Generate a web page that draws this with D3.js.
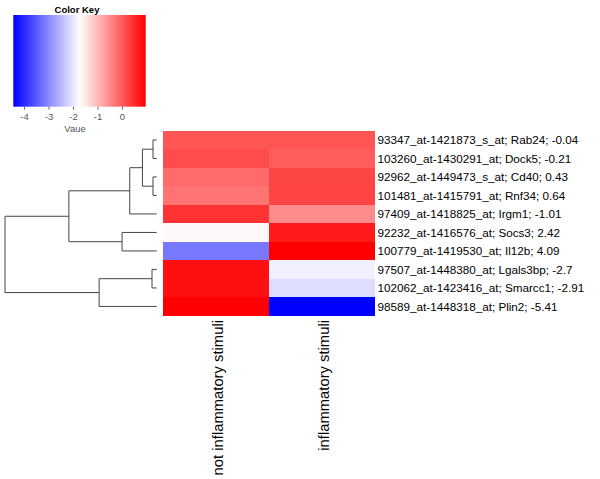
<!DOCTYPE html>
<html>
<head>
<meta charset="utf-8">
<script src="https://cdn.jsdelivr.net/npm/d3@7"></script>
<style>
  html, body { margin: 0; padding: 0; background: #fff; }
  svg { display: block; font-family: Arial, "Liberation Sans", sans-serif; }
</style>
</head>
<body>
<svg id="chart" width="600" height="479"></svg>
<script>
// ---- data ----
const rowLabels = [
  "93347_at-1421873_s_at; Rab24; -0.04",
  "103260_at-1430291_at; Dock5; -0.21",
  "92962_at-1449473_s_at; Cd40; 0.43",
  "101481_at-1415791_at; Rnf34; 0.64",
  "97409_at-1418825_at; Irgm1; -1.01",
  "92232_at-1416576_at; Socs3; 2.42",
  "100779_at-1419530_at; Il12b; 4.09",
  "97507_at-1448380_at; Lgals3bp; -2.7",
  "102062_at-1423416_at; Smarcc1; -2.91",
  "98589_at-1448318_at; Plin2; -5.41"
];
const columns = ["not inflammatory stimuli", "inflammatory stimuli"];
const valuesNotInflammatory = [0.07, 0.17, -0.15, -0.25, 0.43, -1.66, -3.17, 0.80, 0.80, 0.97];
const valuesInflammatory    = [0.07, -0.02, 0.23, 0.25, -0.51, 0.69, 0.97, -1.89, -2.10, -4.44];
const keyTicks = [-4, -3, -2, -1, 0];
const keyRange = [-4.44, 0.97];
// hclust-style merges: negative = leaf (row number), positive = earlier merge; third = height
const merges = [
  [-1, -2, 3.7],
  [-3, -4, 3.7],
  [1, 2, 14.3],
  [3, -5, 27],
  [-6, -7, 34.7],
  [4, 5, 88],
  [-8, -9, 4.7],
  [7, -10, 57.7],
  [6, 8, 152]
];

// ---- drawing ----
const svg = d3.select("#chart");
const seriesByCol = [valuesNotInflammatory, valuesInflammatory];
const mid = (keyRange[0] + keyRange[1]) / 2;
const color = d3.scaleLinear()
  .domain([keyRange[0], mid, keyRange[1]])
  .range(["#0000ff", "#ffffff", "#ff0000"]);

const y = d3.scaleBand().domain(d3.range(rowLabels.length)).range([130.7, 315.7]);
const x = d3.scaleBand().domain(columns).range([162.5, 374.5]);

// heatmap cells
const cells = [];
columns.forEach((c, ci) => seriesByCol[ci].forEach((v, ri) => cells.push({c, ri, v})));
svg.append("g").selectAll("rect").data(cells).join("rect")
  .attr("x", d => x(d.c))
  .attr("y", d => y(d.ri))
  .attr("width", x.bandwidth())
  .attr("height", y.bandwidth() + 0.3)
  .attr("fill", d => color(d.v))
  .attr("shape-rendering", "crispEdges");

// row labels
svg.append("g").selectAll("text").data(rowLabels).join("text")
  .attr("x", 377.5)
  .attr("y", (d, i) => y(i) + y.bandwidth() / 2)
  .attr("dy", "0.36em")
  .attr("font-size", "11.7px")
  .attr("fill", "#000")
  .text(d => d);

// column labels
svg.append("g").selectAll("text").data(columns).join("text")
  .attr("transform", d => `translate(${x(d) + x.bandwidth() / 2 + 2.5},320) rotate(-90)`)
  .attr("text-anchor", "end")
  .attr("dy", "0.35em")
  .attr("font-size", "14.8px")
  .attr("fill", "#000")
  .text(d => d);

// dendrogram
const maxH = d3.max(merges, m => m[2]);
const hx = d3.scaleLinear().domain([0, maxH]).range([156.7, 5]);
const nodePos = [];
function pos(id) {
  if (id < 0) return {x: hx(0), y: y(-id - 1) + y.bandwidth() / 2};
  return nodePos[id - 1];
}
const dend = svg.append("g").attr("stroke", "#444").attr("stroke-width", 1).attr("fill", "none");
merges.forEach((m, i) => {
  const a = pos(m[0]), b = pos(m[1]);
  const nx = hx(m[2]);
  const p = d3.path();
  p.moveTo(a.x, a.y); p.lineTo(nx, a.y); p.lineTo(nx, b.y); p.lineTo(b.x, b.y);
  dend.append("path").attr("d", p.toString());
  nodePos[i] = {x: nx, y: (a.y + b.y) / 2};
});

// color key
const kx = d3.scaleLinear().domain(keyRange).range([13.3, 145.7]);
const defs = svg.append("defs");
const grad = defs.append("linearGradient").attr("id", "keygrad")
  .attr("x1", "0%").attr("x2", "100%").attr("y1", "0%").attr("y2", "0%");
[keyRange[0], mid, keyRange[1]].forEach(v => {
  grad.append("stop")
    .attr("offset", ((v - keyRange[0]) / (keyRange[1] - keyRange[0]) * 100) + "%")
    .attr("stop-color", color(v));
});
svg.append("rect")
  .attr("x", kx(keyRange[0])).attr("y", 15)
  .attr("width", kx(keyRange[1]) - kx(keyRange[0])).attr("height", 91.7)
  .attr("fill", "url(#keygrad)");

const keyAxis = svg.append("g").attr("transform", "translate(0,106.7)")
  .call(d3.axisBottom(kx).tickValues(keyTicks).tickSize(3).tickFormat(d => String(d)));
keyAxis.select(".domain").remove();
keyAxis.selectAll(".tick line").attr("stroke", "#666");
keyAxis.selectAll(".tick text")
  .attr("font-size", "9.5px").attr("fill", "#555")
  .attr("font-family", "Arial, 'Liberation Sans', sans-serif")
  .attr("y", 6.5).attr("dy", "0.71em");

svg.append("text").attr("x", 75).attr("y", 132)
  .attr("text-anchor", "middle").attr("font-size", "9.5px").attr("fill", "#555")
  .text("Vaue");

svg.append("text").attr("x", 77).attr("y", 12.5)
  .attr("text-anchor", "middle").attr("font-size", "9.5px").attr("font-weight", "bold")
  .attr("fill", "#000")
  .text("Color Key");
</script>
</body>
</html>
